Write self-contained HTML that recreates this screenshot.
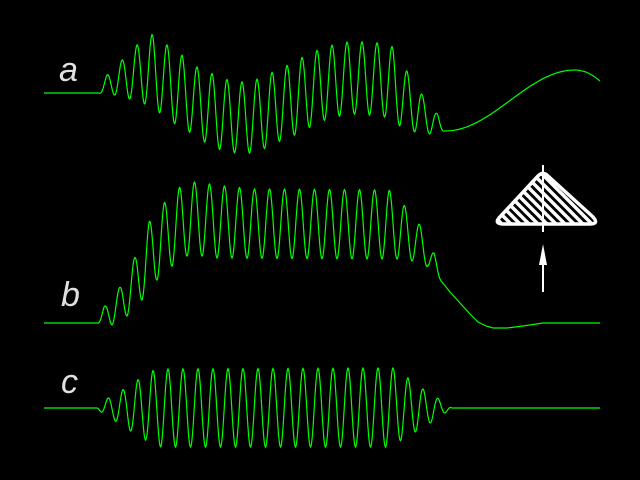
<!DOCTYPE html>
<html><head><meta charset="utf-8"><style>
html,body{margin:0;padding:0;background:#000;}
svg{display:block}
text{font-family:"Liberation Sans",sans-serif;font-style:italic;font-size:34px;fill:#e0e0e0}
</style></head><body>
<svg id="s" width="640" height="480" viewBox="0 0 640 480" xmlns="http://www.w3.org/2000/svg">
<rect width="640" height="480" fill="#000"/>
<defs>
<clipPath id="tri"><path d="M499,218 L538,176 Q543,171 548,176 L592,216 Q600,224 590,224 L504,224 Q494,224 499,218 Z"/></clipPath>
</defs>
<text x="59" y="81">a</text>
<text x="61" y="306">b</text>
<text x="61" y="393">c</text>
<g clip-path="url(#tri)" stroke="#fff" stroke-width="3.5">
<g id="hatch"></g>
</g>
<path d="M499,218 L538,176 Q543,171 548,176 L592,216 Q600,224 590,224 L504,224 Q494,224 499,218 Z" fill="none" stroke="#fff" stroke-width="3.5" stroke-linejoin="round"/>
<line x1="543" y1="165" x2="543" y2="232" stroke="#fff" stroke-width="2"/>
<line x1="543" y1="258" x2="543" y2="292" stroke="#fff" stroke-width="2"/>
<polygon points="543,244 547,265 539,265" fill="#fff"/>
<polyline id="pa" fill="none" stroke="#00ff00" stroke-width="1.2"/>
<polyline id="pb" fill="none" stroke="#00ff00" stroke-width="1.2"/>
<polyline id="pc" fill="none" stroke="#00ff00" stroke-width="1.2"/>
</svg>
<script>
function interp(t,x){if(x<=t[0][0])return t[0][1];for(var i=1;i<t.length;i++){if(x<=t[i][0]){var a=t[i-1],b=t[i];return a[1]+(b[1]-a[1])*(x-a[0])/(b[0]-a[0]);}}return t[t.length-1][1];}
function osc(U,L,x0,xs,xe,base,tail){
 var p=[[44,base],[97,base]];
 for(var x=97;x<=xe;x+=0.5){var u=interp(U,x),l=interp(L,x);var m=(u+l)/2,h=(l-u)/2;
  var y=m-h*Math.cos(2*Math.PI*(x-x0)/15);p.push([x,y]);}
 for(var i=0;i<tail.length;i++)p.push(tail[i]);
 return p.map(function(q){return q[0].toFixed(1)+","+q[1].toFixed(1)}).join(" ");}
var Ua=[[97,93],[107,75],[123,59],[137,45],[153,34],[167,45],[183,56],[197,67],[213,74],[228,80],[243,82],[258,79],[273,72],[288,65],[303,57],[318,50],[333,45],[348,42],[363,42],[378,43],[393,47],[408,73],[423,96],[438,115],[445,131]];
var La=[[97,93],[114,95],[130,99],[145,104],[160,113],[175,124],[191,133],[206,143],[221,150],[236,153],[251,153],[266,148],[280,141],[295,135],[310,127],[325,120],[340,116],[355,114],[370,115],[385,117],[400,126],[415,132],[430,134],[445,131]];
var ta=[];for(var x=446;x<=600;x+=2){var t=(x-445)/(575-445);var y=x<=575?131-61*(1-Math.cos(Math.PI*t))/2:70+11*Math.pow((x-575)/25,2);ta.push([x,y]);}
document.getElementById("pa").setAttribute("points",osc(Ua,La,107,97,445,93,ta));
var Ub=[[97,323],[104,307],[120,287],[135,257],[149,222],[165,202],[180,187],[194,182],[209,184],[224,186],[254,189],[389,190],[404,205],[420,225],[434,253],[442,282]];
var Lb=[[97,323],[112,325],[127,316],[142,300],[157,280],[172,266],[187,256],[202,256],[217,258],[398,259],[413,261],[428,267],[442,282]];
document.getElementById("pb").setAttribute("points",osc(Ub,Lb,104.5,97,442,323,[[450,292],[460,303],[470,314],[478,322],[486,326],[493,328],[507,328],[523,326],[543,323],[600,323]]));
var Uc=[[97,408],[108,398],[124,389],[139,379],[154,370],[168,369],[394,368],[408,378],[423,389],[439,399],[452,408]];
var Lc=[[97,408],[102,413],[117,422],[132,432],[147,441],[161,447],[387,447],[402,440],[417,431],[432,422],[445,413],[452,408]];
document.getElementById("pc").setAttribute("points",osc(Uc,Lc,108,97,452,408,[[600,408]]));
var g=document.getElementById("hatch"),ns="http://www.w3.org/2000/svg";
for(var k=-60;k<120;k+=9){var l=document.createElementNS(ns,"line");
 l.setAttribute("x1",480+k);l.setAttribute("y1",160);l.setAttribute("x2",480+k+70);l.setAttribute("y2",230);g.appendChild(l);}
</script>
</body></html>
